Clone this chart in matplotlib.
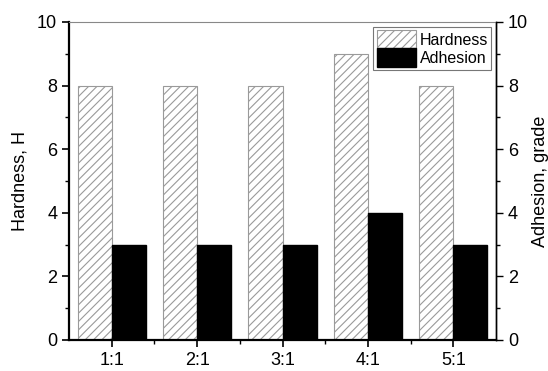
import numpy as np
import matplotlib
matplotlib.use("Agg")
from matplotlib import pyplot as plt

ratios = ["1:1", "2:1", "3:1", "4:1", "5:1"]
hardness = [8, 8, 8, 9, 8]
adhesion = [3, 3, 3, 4, 3]

plt.rcParams['font.family'] = ['Liberation Sans', 'DejaVu Sans']
plt.rcParams['hatch.color'] = '#9a9a9a'
plt.rcParams['hatch.linewidth'] = 0.8

fig = plt.figure(figsize=(5.48, 3.71), dpi=100)
ax = fig.add_axes([69/548, 1 - 340/371, (496 - 69)/548, (340 - 22)/371])

x = np.arange(1, len(ratios) + 1)
w = 0.4
ax.bar(x - w/2, hardness, w, color='white', edgecolor='#9a9a9a', hatch='////',
       linewidth=0.8, label='Hardness')
ax.bar(x + w/2, adhesion, w, color='black', edgecolor='black', label='Adhesion')

ax.set_xlim(0.5, 5.5)
ax.set_ylim(0, 10)
ax.set_xticks(x)
ax.set_xticklabels(ratios)
ax.set_xticks(x[:-1] + 0.5, minor=True)
ax.set_yticks(range(0, 11, 2))
ax.set_yticks(range(1, 10, 2), minor=True)
ax.set_ylabel('Hardness, H', fontsize=13, labelpad=6)
ax.tick_params(labelsize=13, direction='out', length=5, width=1.2)
ax.tick_params(which='minor', direction='out', length=3, width=1)

for s in ['left', 'bottom']:
    ax.spines[s].set_linewidth(1.6)
ax.spines['top'].set_color('#888888')
ax.spines['top'].set_linewidth(0.8)
ax.spines['right'].set_linewidth(1.0)

ax2 = ax.twinx()
ax2.set_ylim(0, 10)
ax2.set_yticks(range(0, 11, 2))
ax2.set_yticks(range(1, 10, 2), minor=True)
ax2.set_ylabel('Adhesion, grade', fontsize=13, labelpad=3)
ax2.tick_params(labelsize=13, direction='out', length=5, width=1)
ax2.tick_params(which='minor', direction='out', length=3, width=1)
ax2.spines['right'].set_linewidth(1.0)
ax2.spines['top'].set_visible(False)
ax2.spines['left'].set_visible(False)
ax2.spines['bottom'].set_visible(False)

leg = ax.legend(loc='upper right', fontsize=11.5, frameon=True, fancybox=False,
                edgecolor='#555555', handlelength=2.5, handleheight=1.4,
                handletextpad=0.2, labelspacing=0.0, borderpad=0.2,
                borderaxespad=0.3)
leg.get_frame().set_linewidth(0.8)

fig.savefig('out.png', dpi=100)
